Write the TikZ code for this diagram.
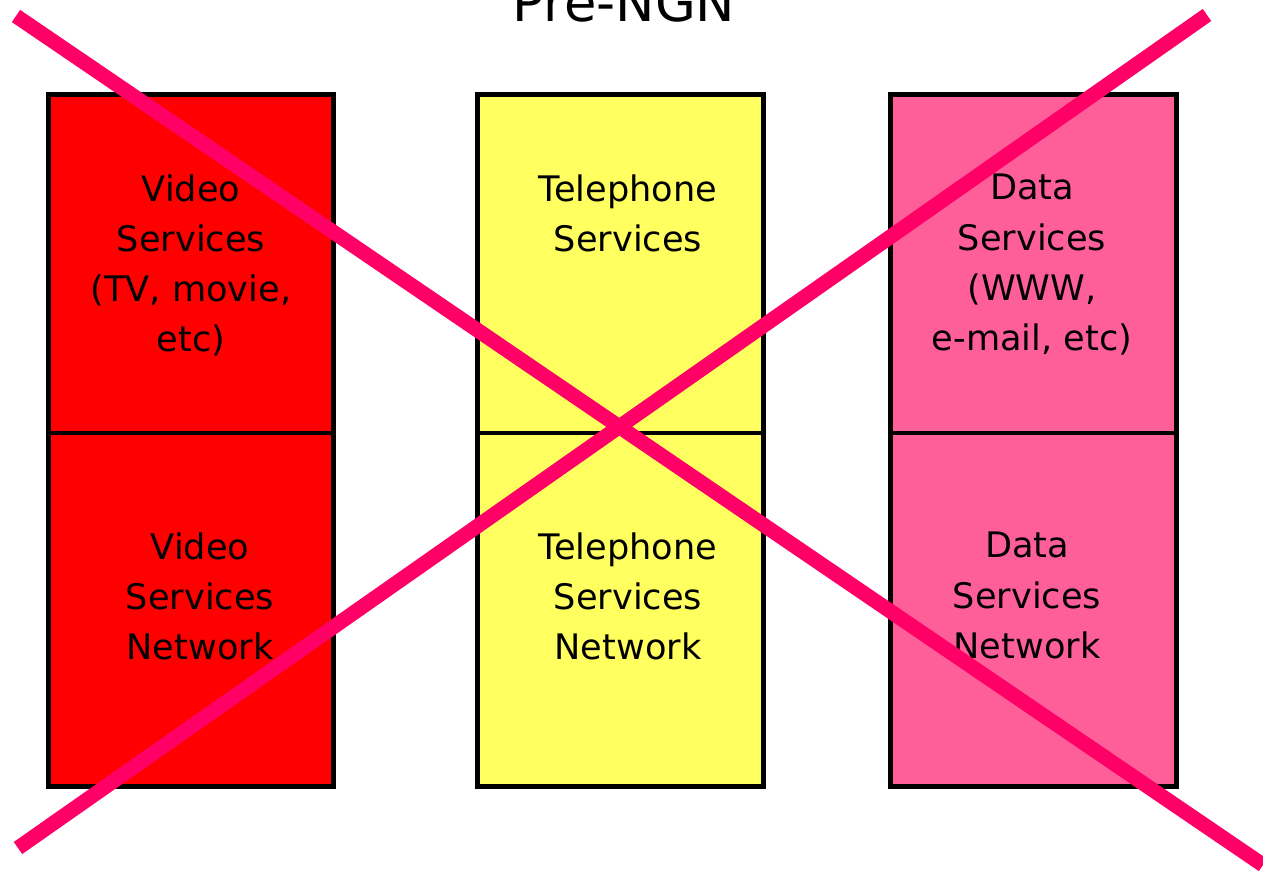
\documentclass[tikz,border=0pt]{standalone}
\usepackage{fontspec}
\setmainfont{DejaVu Sans}
\definecolor{videored}{HTML}{FF0000}
\definecolor{phoneyellow}{HTML}{FFFF5F}
\definecolor{datapink}{HTML}{FF5F99}
\definecolor{crossred}{HTML}{FF0066}
\tikzset{
  column/.style={draw=black, line width=3pt},
  divider/.style={draw=black, line width=2pt},
  cell/.style={align=center, anchor=north, inner sep=0pt, font=\fontsize{20}{28.5}\selectfont},
  cross/.style={crossred, line width=8.4pt}
}

\begin{document}
\begin{tikzpicture}[x=0.2mm, y=-0.2mm]
\useasboundingbox (0,0) rectangle (1263,872);
% Title
\node[anchor=base, inner sep=0pt, font=\fontsize{30}{36}\selectfont] (title) at (624,22) {Pre-NGN};
% Columns
\draw[column, fill=videored] (48.5,94.5) rectangle (333.5,786.5);
\draw[column, fill=phoneyellow] (477.5,94.5) rectangle (763.5,786.5);
\draw[column, fill=datapink] (890.5,94.5) rectangle (1176.5,786.5);
\draw[divider] (48.5,433) -- (333.5,433);
\draw[divider] (477.5,433) -- (763.5,433);
\draw[divider] (890.5,433) -- (1176.5,433);
% Services
\node[cell] (videosvc) at (191,174) {Video\\Services\\(TV, movie,\\etc)};
\node[cell] (phonesvc) at (628,174) {Telephone\\Services};
\node[cell] (datasvc) at (1032,174) {Data\\Services\\(WWW,\\e-mail, etc)};
% Networks
\node[cell] (videonet) at (200,532) {Video\\Services\\Network};
\node[cell] (phonenet) at (628,532) {Telephone\\Services\\Network};
\node[cell] (datanet) at (1027,532) {Data\\Services\\Network};
% Cross
\coordinate (xa) at (16,16);
\coordinate (xb) at (1263,865);
\coordinate (xc) at (18,848);
\coordinate (xd) at (1207,15);
\draw[cross] (xa) -- (xb);
\draw[cross] (xc) -- (xd);
\end{tikzpicture}
\end{document}
